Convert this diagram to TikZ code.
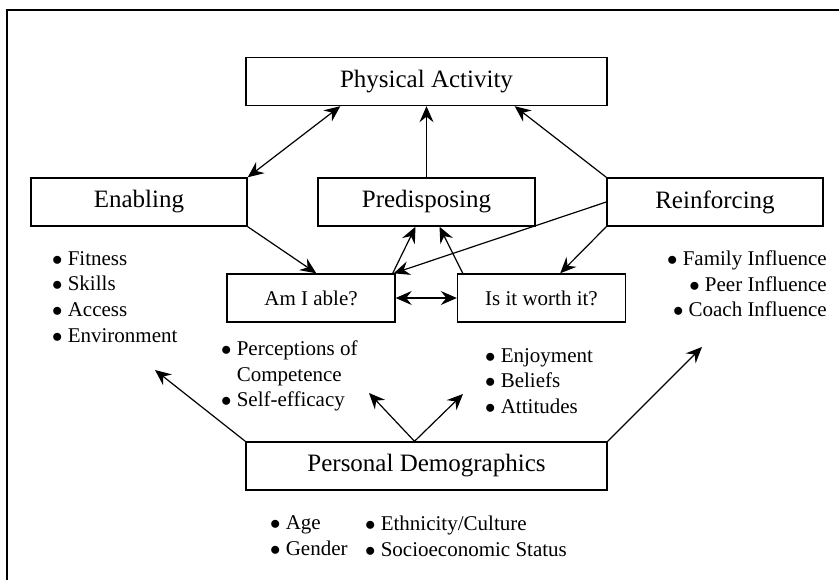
\documentclass[tikz,border=0pt]{standalone}
\usepackage{fontspec}
\setmainfont{Liberation Serif}
\usetikzlibrary{positioning}
\usetikzlibrary{arrows.meta}

\newcommand{\bul}{$\bullet$\ }

\begin{document}
\begin{tikzpicture}[x=1pt,y=-1pt,
  factor/.style={draw,line width=1.4pt,minimum height=48pt,inner sep=0pt,font=\fontsize{25}{30}\selectfont},
  question/.style={draw,line width=1.4pt,minimum width=168pt,minimum height=48pt,inner sep=0pt,font=\fontsize{21}{25}\selectfont},
  items/.style={inner sep=0pt,align=left,font=\fontsize{21}{25.7}\selectfont},
  link/.style={line width=1.2pt,-{Stealth[length=16pt,width=14pt,inset=5.5pt]}},
  both/.style={link,{Stealth[length=16pt,width=14pt,inset=5.5pt]}-{Stealth[length=16pt,width=14pt,inset=5.5pt]}}]
 \useasboundingbox (0,0) rectangle (839,580);
 \draw[line width=2pt] (7,580) -- (7,10) -- (839,10);
 % boxes
 \node[factor,minimum width=361pt] (pa) at (426.5,81.5) {Physical Activity};
 \node[factor,minimum width=216pt] (enab) at (139,202) {Enabling};
 \node[factor,minimum width=217pt] (pred) at (426.5,202) {Predisposing};
 \node[factor,minimum width=216pt] (reinf) at (715,202) {Reinforcing};
 \node[question] (able) at (311,298) {Am I able?};
 \node[question] (worth) at (541.5,298) {Is it worth it?};
 \node[factor,minimum width=361pt] (demo) at (426.5,466) {Personal Demographics};
 % lists
 \node[items,anchor=west] (enablist) at (52,297) {\bul Fitness\\\bul Skills\\\bul Access\\\bul Environment};
 \node[items,anchor=east,align=right] (reinflist) at (827,284) {\bul Family Influence\\\bul Peer Influence\\\bul Coach Influence};
 \node[items,anchor=west] (ablelist) at (221,376) {\bul Perceptions of\\\hphantom{\bul}Competence\\\bul Self-efficacy};
 \node[items,anchor=west] (worthlist) at (485,381) {\bul Enjoyment\\\bul Beliefs\\\bul Attitudes};
 \node[items,anchor=west] (demolistA) at (270,536) {\bul Age\\\bul Gender};
 \node[items,anchor=west] (demolistB) at (365,536) {\bul Ethnicity/Culture\\\bul Socioeconomic Status};
 % free ends
 \coordinate (enabtip) at (155,370);
 \coordinate (ablefork) at (369,393);
 \coordinate (worthfork) at (463,394);
 \coordinate (reinftip) at (702,347);
 % connectors
 \draw[both] (enab.north east) -- ([xshift=95pt]pa.south west);
 \draw[link] (pred.north) -- (pa.south);
 \draw[link] (reinf.north west) -- ([xshift=-93pt]pa.south east);
 \draw[link] (enab.south east) -- ([xshift=90pt]able.north west);
 \draw[link] (reinf.south west) -- ([xshift=-66pt]worth.north east);
 \draw[link] (reinf.west) -- ([xshift=-2pt]able.north east);
 \draw[link] ([xshift=-3pt]able.north east) -- ([xshift=-11pt]pred.south);
 \draw[link] ([xshift=6pt]worth.north west) -- ([xshift=13pt]pred.south);
 \draw[both] (able.east) -- (worth.west);
 \draw[link] (demo.north west) -- (enabtip);
 \draw[link] ([xshift=-12pt]demo.north) -- (ablefork);
 \draw[link] ([xshift=-12pt]demo.north) -- (worthfork);
 \draw[link] (demo.north east) -- (reinftip);
\end{tikzpicture}
\end{document}
